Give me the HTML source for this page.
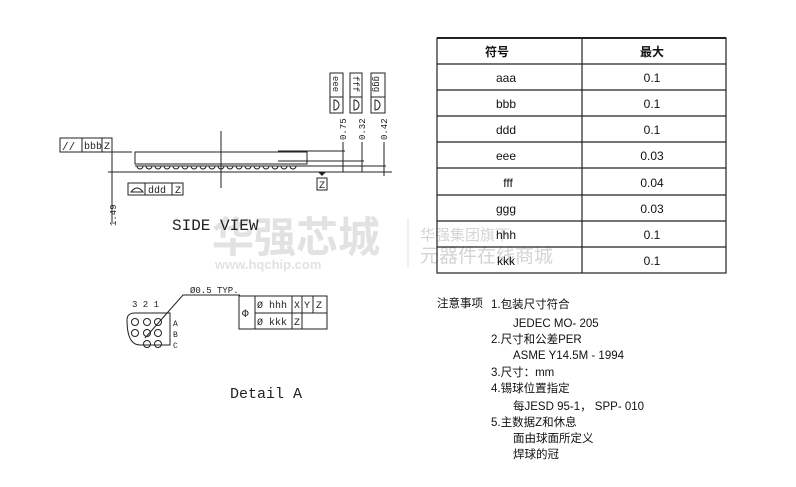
<!DOCTYPE html>
<html><head><meta charset="utf-8"><style>
body{margin:0;background:#fff;width:796px;height:487px;overflow:hidden}
svg{display:block}
.t{font-family:"Liberation Sans","Noto Sans CJK SC",sans-serif;fill:#111}
.m{font-family:"Liberation Mono",monospace;fill:#222}
</style></head><body>
<svg width="796" height="487" viewBox="0 0 796 487" xmlns="http://www.w3.org/2000/svg">
<!-- watermark -->
<g class="t">
<text x="212" y="252" font-size="42" font-weight="bold" style="fill:#e2e2e2">华强芯城</text>
<text x="215" y="269" font-size="13" font-weight="bold" style="fill:#e2e2e2">www.hqchip.com</text>
<line x1="408" y1="218" x2="408" y2="268" stroke="#e2e2e2"/>
<text x="420" y="240" font-size="15" style="fill:#d4d4d4">华强集团旗下</text>
<text x="420" y="262" font-size="19" style="fill:#d4d4d4">元器件在线商城</text>
</g>
<g stroke="#222" stroke-width="1" fill="none">
<!-- side view -->
<rect x="60" y="138" width="52" height="14"/>
<line x1="82" y1="138" x2="82" y2="152"/><line x1="102" y1="138" x2="102" y2="152"/>
<line x1="112" y1="152" x2="132" y2="152"/>
<rect x="135" y="152" width="172" height="12"/>
<line x1="135" y1="166" x2="307" y2="166"/>
<line x1="108" y1="172" x2="392" y2="172"/>
<line x1="221" y1="131" x2="221" y2="188"/>
<line x1="112" y1="152" x2="112" y2="222"/>
<line x1="278" y1="151" x2="345" y2="151"/>
<line x1="278" y1="161" x2="364" y2="161"/>
<line x1="278" y1="166" x2="386" y2="166"/>
<line x1="343" y1="142" x2="343" y2="172"/>
<line x1="362" y1="142" x2="362" y2="172"/>
<line x1="384" y1="142" x2="384" y2="176"/>
<rect x="330" y="73" width="13" height="40"/><line x1="330" y1="97" x2="343" y2="97"/>
<rect x="350" y="73" width="12" height="40"/><line x1="350" y1="97" x2="362" y2="97"/>
<rect x="371" y="73" width="14" height="40"/><line x1="371" y1="97" x2="385" y2="97"/>
<path d="M334 100 a5 5 0 0 1 0 10z M354 100 a5 5 0 0 1 0 10z M375 100 a5 5 0 0 1 0 10z"/>
<rect x="317" y="178" width="10" height="12"/>
<rect x="128" y="183" width="55" height="12"/>
<line x1="145" y1="183" x2="145" y2="195"/><line x1="172" y1="183" x2="172" y2="195"/>
<path d="M131 192 q6 -8 12 0z"/>
<path d="M137 166 a3 3 0 0 0 6 0 M146 166 a3 3 0 0 0 6 0 M155 166 a3 3 0 0 0 6 0 M164 166 a3 3 0 0 0 6 0 M173 166 a3 3 0 0 0 6 0 M182 166 a3 3 0 0 0 6 0 M191 166 a3 3 0 0 0 6 0 M200 166 a3 3 0 0 0 6 0 M209 166 a3 3 0 0 0 6 0 M218 166 a3 3 0 0 0 6 0 M227 166 a3 3 0 0 0 6 0 M236 166 a3 3 0 0 0 6 0 M245 166 a3 3 0 0 0 6 0 M254 166 a3 3 0 0 0 6 0 M263 166 a3 3 0 0 0 6 0 M272 166 a3 3 0 0 0 6 0 M281 166 a3 3 0 0 0 6 0 M290 166 a3 3 0 0 0 6 0"/>
<!-- detail A -->
<path d="M127 320 q0 -7 8 -7 h35 v32 h-30 q-13 0 -13 -25z"/>
<circle cx="135" cy="322" r="3.5"/><circle cx="147" cy="322" r="3.5"/><circle cx="158" cy="322" r="3.5"/>
<circle cx="135" cy="333" r="3.5"/><circle cx="147" cy="333" r="3.5"/><circle cx="158" cy="333" r="3.5"/>
<circle cx="147" cy="344" r="3.5"/><circle cx="158" cy="344" r="3.5"/>
<polyline points="145,338 183,295 240,295"/>
<rect x="239" y="296" width="88" height="33"/>
<line x1="255" y1="296" x2="255" y2="329"/><line x1="255" y1="313" x2="327" y2="313"/>
<line x1="292" y1="296" x2="292" y2="329"/><line x1="302" y1="296" x2="302" y2="313"/><line x1="313" y1="296" x2="313" y2="313"/>
<line x1="302" y1="313" x2="302" y2="329"/>
</g>
<path d="M318 172 h8 l-4 4z" fill="#222"/>
<text class="m" x="62" y="150" font-size="11">//</text>
<text class="m" x="84" y="149" font-size="10">bbb</text>
<text class="m" x="104" y="149" font-size="10">Z</text>
<text class="m" x="148" y="193" font-size="10">ddd</text>
<text class="m" x="175" y="193" font-size="10">Z</text>
<text class="m" x="319" y="188" font-size="10">Z</text>
<g class="m" font-size="9">
<text transform="translate(333,76) rotate(90)">eee</text>
<text transform="translate(353,76) rotate(90)">fff</text>
<text transform="translate(374,76) rotate(90)">ggg</text>
<text transform="translate(346,140) rotate(-90)">0.75</text>
<text transform="translate(365,140) rotate(-90)">0.32</text>
<text transform="translate(387,140) rotate(-90)">0.42</text>
<text transform="translate(116,226) rotate(-90)">1.49</text>
</g>
<text class="m" x="172" y="230" font-size="16">SIDE VIEW</text>
<text class="m" x="132" y="307" font-size="9">3 2 1</text>
<text class="m" x="173" y="326" font-size="8">A</text>
<text class="m" x="173" y="337" font-size="8">B</text>
<text class="m" x="173" y="348" font-size="8">C</text>
<text class="m" x="190" y="293" font-size="9">Ø0.5 TYP.</text>
<text class="m" x="242" y="317" font-size="11">Φ</text>
<text class="m" x="257" y="308" font-size="10">Ø hhh</text>
<text class="m" x="294" y="308" font-size="10">X</text>
<text class="m" x="304" y="308" font-size="10">Y</text>
<text class="m" x="316" y="308" font-size="10">Z</text>
<text class="m" x="257" y="325" font-size="10">Ø kkk</text>
<text class="m" x="294" y="325" font-size="10">Z</text>
<text class="m" x="230" y="398" font-size="15">Detail A</text>
<!-- table -->
<g stroke="#222" stroke-width="1.2" fill="none">
<rect x="437" y="38" width="289" height="235"/>
<line x1="437" y1="38" x2="726" y2="38" stroke-width="2"/>
<line x1="582" y1="38" x2="582" y2="273"/>
<line x1="437" y1="64" x2="726" y2="64"/><line x1="437" y1="90" x2="726" y2="90"/>
<line x1="437" y1="116" x2="726" y2="116"/><line x1="437" y1="142" x2="726" y2="142"/>
<line x1="437" y1="168" x2="726" y2="168"/><line x1="437" y1="195" x2="726" y2="195"/>
<line x1="437" y1="221" x2="726" y2="221"/><line x1="437" y1="247" x2="726" y2="247"/>
</g>
<g class="t" font-size="12" text-anchor="middle">
<text x="497" y="56" font-weight="bold">符号</text><text x="652" y="56" font-weight="bold">最大</text>
<text x="506" y="82">aaa</text><text x="652" y="82">0.1</text>
<text x="506" y="108">bbb</text><text x="652" y="108">0.1</text>
<text x="506" y="134">ddd</text><text x="652" y="134">0.1</text>
<text x="506" y="160">eee</text><text x="652" y="160">0.03</text>
<text x="508" y="187">fff</text><text x="652" y="187">0.04</text>
<text x="506" y="213">ggg</text><text x="652" y="213">0.03</text>
<text x="506" y="239">hhh</text><text x="652" y="239">0.1</text>
<text x="506" y="265">kkk</text><text x="652" y="265">0.1</text>
</g>
<!-- notes -->
<g class="t" font-size="11.5">
<text x="437" y="307">注意事项</text>
<text x="491" y="308">1.包装尺寸符合</text>
<text x="513" y="327">JEDEC MO- 205</text>
<text x="491" y="343">2.尺寸和公差PER</text>
<text x="513" y="359">ASME Y14.5M - 1994</text>
<text x="491" y="376">3.尺寸：mm</text>
<text x="491" y="392">4.锡球位置指定</text>
<text x="513" y="410">每JESD 95-1，  SPP- 010</text>
<text x="491" y="426">5.主数据Z和休息</text>
<text x="513" y="442">面由球面所定义</text>
<text x="513" y="458">焊球的冠</text>
</g>
</svg>
</body></html>
